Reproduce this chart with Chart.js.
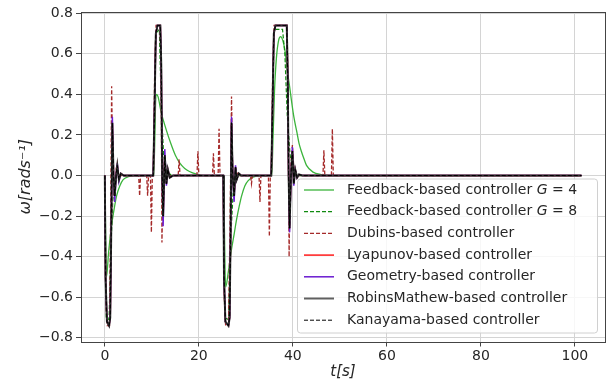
<!DOCTYPE html>
<html>
<head>
<meta charset="utf-8">
<script src="https://cdn.jsdelivr.net/npm/chart.js@4.4.1/dist/chart.umd.min.js"></script>
<style>
  html, body { margin: 0; padding: 0; background: #fff; }
</style>
</head>
<body>
<canvas id="myChart" width="609" height="383"></canvas>
<script>
// time [s] and angular velocity [rad/s]
var tG4 = [0, 0.35, 0.8, 1.4, 1.8, 2.5, 3.2, 3.9, 5.0, 6.5,
  10.4, 10.9, 11.3, 12.0, 13.0, 14.0, 15.0, 16.0, 17.0, 18.0, 19.5, 21.0,
  25.2, 25.7, 26.3, 26.9, 27.5, 28.0, 28.6, 29.1, 29.8, 30.5, 31.5, 33.0,
  35.5, 35.8, 36.1, 36.5, 37.0, 37.4, 37.8, 38.3, 38.8, 39.3, 39.7, 40.2, 40.8, 41.3, 41.8, 42.4, 42.9, 44.3, 46.0, 48.0,
  101.4];
var wG4 = [0, -0.5, -0.38, -0.25, -0.19, -0.1, -0.05, -0.02, -0.006, 0,
  0, 0.4, 0.39, 0.31, 0.23, 0.16, 0.1, 0.06, 0.035, 0.02, 0.007, 0,
  0, -0.55, -0.47, -0.37, -0.29, -0.22, -0.15, -0.1, -0.05, -0.025, -0.008, 0,
  0, 0.2, 0.42, 0.58, 0.67, 0.685, 0.67, 0.62, 0.52, 0.44, 0.37, 0.29, 0.22, 0.16, 0.12, 0.08, 0.05, 0.017, 0.005, 0,
  0];

var tG8 = [0, 0.3, 0.9, 1.3, 1.7, 2.3, 3.2,
  10.35, 10.8, 11.6, 12.0, 12.5, 13.2, 14.2,
  25.2, 25.5, 26.3, 26.8, 27.3, 28.0,
  35.45, 36.0, 37.8, 38.3, 38.8, 39.4, 40.2, 41.2,
  101.4];
var wG8 = [0, -0.7, -0.71, -0.35, -0.12, -0.03, 0,
  0, 0.7, 0.72, 0.35, 0.1, 0.02, 0,
  0, -0.7, -0.71, -0.3, -0.08, 0,
  0, 0.72, 0.72, 0.6, 0.3, 0.1, 0.02, 0,
  0];

var tDubins = [0, 0.2, 0.5, 1.0, 1.2, 1.45, 1.7, 2.0, 2.4, 3.0,
  7.2, 7.4, 7.6, 8.9, 9.1, 9.3, 9.7, 9.9, 10.1,
  10.3, 10.6, 10.9, 11.8, 12.0, 12.15, 12.4, 12.7, 13.1,
  15.6, 15.8, 16.0, 19.6, 19.8, 20.0, 22.9, 23.1, 23.3, 24.1, 24.3, 24.5,
  25.2, 25.4, 25.7, 26.3, 26.6, 26.95, 27.2, 27.5, 27.9, 28.5,
  31.0, 31.2, 31.4, 32.8, 33.0, 33.2, 34.8, 35.0, 35.2,
  35.4, 35.7, 36.0, 38.8, 39.0, 39.2, 39.4, 39.9, 40.3,
  46.4, 46.6, 46.8, 48.2, 48.4, 48.6,
  101.4];
var wDubins = [0, -0.6, -0.74, -0.74, -0.3, 0.44, 0, -0.1, 0.03, 0,
  0, -0.1, 0, 0, -0.1, 0, 0, -0.28, 0,
  0, 0.5, 0.74, 0.74, 0.4, -0.33, 0, 0.08, 0,
  0, 0.08, 0, 0, 0.12, 0, 0, 0.11, 0, 0, 0.23, 0,
  0, -0.6, -0.74, -0.74, -0.3, 0.39, 0, -0.1, 0.02, 0,
  0, -0.04, 0, 0, -0.13, 0, 0, -0.3, 0,
  0, 0.5, 0.74, 0.74, 0.3, -0.4, 0, 0.15, 0,
  0, 0.125, 0, 0, 0.23, 0,
  0];

// Lyapunov, Geometry, RobinsMathew and Kanayama share the same time base
var tCtrl = [0, 0.15, 0.45, 0.9, 1.15, 1.35, 1.6, 1.85, 2.1, 2.4, 2.65, 3.0, 3.4, 4.0,
  10.3, 10.55, 10.85, 11.2, 11.8, 12.0, 12.2, 12.4, 12.75, 13.1, 13.4, 13.8, 14.5,
  25.2, 25.35, 25.65, 26.3, 26.55, 26.75, 26.95, 27.2, 27.5, 27.8, 28.05, 28.5, 29.0, 30.0,
  35.4, 35.65, 35.95, 36.3, 38.7, 38.9, 39.1, 39.3, 39.6, 39.9, 40.2, 40.5, 40.9, 41.3, 42.0,
  101.4];
var wLyapunov = [0, -0.5, -0.72, -0.74, -0.7, -0.3, 0.26, 0, -0.1, 0, 0.05, -0.02, 0.01, 0,
  0, 0.3, 0.7, 0.74, 0.74, 0.55, 0, -0.2, 0.1, -0.04, 0.03, -0.01, 0,
  0, -0.5, -0.72, -0.74, -0.7, -0.3, 0.26, 0, -0.1, 0.04, -0.02, 0.01, 0, 0,
  0, 0.3, 0.7, 0.74, 0.74, 0.5, 0, -0.26, 0, 0.12, -0.04, 0.03, -0.01, 0.005, 0,
  0];
var wGeometry = [0, -0.5, -0.72, -0.74, -0.7, -0.3, 0.29, 0, -0.13, 0, 0.06, -0.03, 0.01, 0,
  0, 0.3, 0.7, 0.74, 0.74, 0.55, 0, -0.25, 0.13, -0.05, 0.03, -0.01, 0,
  0, -0.5, -0.72, -0.74, -0.7, -0.3, 0.29, 0, -0.13, 0.05, -0.02, 0.01, 0, 0,
  0, 0.3, 0.7, 0.74, 0.74, 0.5, 0, -0.28, 0, 0.14, -0.05, 0.03, -0.01, 0.005, 0,
  0];
var wRobins = [0, -0.5, -0.72, -0.74, -0.7, -0.3, 0.26, 0, -0.1, 0, 0.05, -0.02, 0.01, 0,
  0, 0.3, 0.7, 0.74, 0.74, 0.55, 0, -0.2, 0.1, -0.04, 0.03, -0.01, 0,
  0, -0.5, -0.72, -0.74, -0.7, -0.3, 0.26, 0, -0.1, 0.04, -0.02, 0.01, 0, 0,
  0, 0.3, 0.7, 0.74, 0.74, 0.5, 0, -0.26, 0, 0.12, -0.04, 0.03, -0.01, 0.005, 0,
  0];
var wKanayama = wRobins.slice();

var seriesNames = [
  "Feedback-based controller G = 4",
  "Feedback-based controller G = 8",
  "Dubins-based controller",
  "Lyapunov-based controller",
  "Geometry-based controller",
  "RobinsMathew-based controller",
  "Kanayama-based controller"
];
var xTicks = [0, 20, 40, 60, 80, 100];
var yTicks = [-0.8, -0.6, -0.4, -0.2, 0, 0.2, 0.4, 0.6, 0.8];

function pts(t, w) {
  return t.map(function (v, i) { return { x: v, y: w[i] }; });
}

var styles = [
  { color: "#3cb43c", dash: [], width: 1.3, cubic: true },
  { color: "#108a10", dash: [4, 2], width: 1.2 },
  { color: "#a52a2a", dash: [4, 2], width: 1.3 },
  { color: "#ff1a1a", dash: [], width: 1.5 },
  { color: "#6a1bd0", dash: [], width: 1.5 },
  { color: "#303030", dash: [], width: 2 },
  { color: "#000000", dash: [4, 2], width: 1 }
];
var series = [pts(tG4, wG4), pts(tG8, wG8), pts(tDubins, wDubins), pts(tCtrl, wLyapunov),
  pts(tCtrl, wGeometry), pts(tCtrl, wRobins), pts(tCtrl, wKanayama)];

Chart.defaults.font.family = "'DejaVu Sans', sans-serif";
Chart.defaults.font.size = 14;
Chart.defaults.color = "#262626";

// matplotlib-like legend box in the lower right corner
const boxLegend = {
  id: "boxLegend",
  afterDatasetsDraw(chart) {
    const ctx = chart.ctx;
    const area = chart.chartArea;
    const w = 300, h = 154;
    const x0 = area.right - 8 - w, y0 = area.bottom - 9 - h;
    ctx.save();
    ctx.beginPath();
    ctx.roundRect(x0 + 0.5, y0 + 0.5, w, h, 3);
    ctx.fillStyle = "rgba(255,255,255,0.8)";
    ctx.fill();
    ctx.strokeStyle = "#d0d0d0";
    ctx.lineWidth = 1;
    ctx.stroke();
    ctx.textBaseline = "middle";
    seriesNames.forEach(function (name, i) {
      const y = y0 + 11.5 + i * 21.7;
      const st = styles[i];
      ctx.beginPath();
      ctx.setLineDash(st.dash);
      ctx.strokeStyle = i === 5 ? "#606060" : st.color;
      ctx.lineWidth = st.width;
      ctx.moveTo(x0 + 7, y);
      ctx.lineTo(x0 + 37, y);
      ctx.stroke();
      ctx.setLineDash([]);
      ctx.fillStyle = "#262626";
      let x = x0 + 50;
      const parts = name.split(" G ");
      if (parts.length === 2) {
        ctx.font = "14px 'DejaVu Sans'";
        ctx.fillText(parts[0] + " ", x, y);
        x += ctx.measureText(parts[0] + " ").width;
        ctx.font = "italic 14px 'DejaVu Sans'";
        ctx.fillText("G", x, y);
        x += ctx.measureText("G").width;
        ctx.font = "14px 'DejaVu Sans'";
        ctx.fillText(" " + parts[1], x, y);
      } else {
        ctx.font = "14px 'DejaVu Sans'";
        ctx.fillText(name, x, y);
      }
    });
    ctx.restore();
  },
  afterDraw(chart) {
    const ctx = chart.ctx;
    const a = chart.chartArea;
    ctx.save();
    ctx.strokeStyle = "#444";
    ctx.lineWidth = 1;
    ctx.strokeRect(Math.round(a.left) + 0.5, Math.round(a.top) + 0.5,
      Math.round(a.right - a.left), Math.round(a.bottom - a.top));
    ctx.restore();
  }
};

const chartData = {
  datasets: series.map(function (d, i) {
    return {
      label: seriesNames[i],
      data: d,
      borderColor: styles[i].color,
      backgroundColor: styles[i].color,
      borderWidth: styles[i].width,
      borderDash: styles[i].dash,
      pointRadius: 0,
      fill: false,
      tension: 0,
      cubicInterpolationMode: styles[i].cubic ? "monotone" : "default",
      order: series.length - i
    };
  })
};

const config = {
  type: "line",
  data: chartData,
  options: {
    responsive: false,
    animation: false,
    layout: { padding: { top: 12, right: 4, left: 0, bottom: 0 } },
    plugins: { legend: { display: false }, tooltip: { enabled: false } },
    scales: {
      x: {
        type: "linear",
        min: -5.07,
        max: 106.4,
        afterBuildTicks: function (s) { s.ticks = xTicks.map(function (v) { return { value: v }; }); },
        afterFit: function (s) { s.height = 41.5; },
        ticks: { maxRotation: 0, padding: 1, callback: function (v) { return String(v); } },
        grid: { color: "#d4d4d4", tickColor: "#444", tickLength: 5 },
        border: { display: false },
        title: { display: true, text: "t[s]", font: { style: "italic", size: 15 }, padding: { top: 0, bottom: 2 } }
      },
      y: {
        type: "linear",
        min: -0.818,
        max: 0.806,
        afterBuildTicks: function (s) { s.ticks = yTicks.map(function (v) { return { value: v }; }); },
        afterFit: function (s) { s.width = 81; },
        ticks: { padding: 3, callback: function (v) { return v.toFixed(1).replace("-", "\u2212"); } },
        grid: { color: "#d4d4d4", tickColor: "#444", tickLength: 5 },
        border: { display: false },
        title: { display: true, text: "ω[rads⁻¹]", font: { style: "italic", size: 16 }, padding: { top: 16, bottom: 0 } }
      }
    }
  },
  plugins: [boxLegend]
};

new Chart(document.getElementById("myChart"), config);
</script>
</body>
</html>
